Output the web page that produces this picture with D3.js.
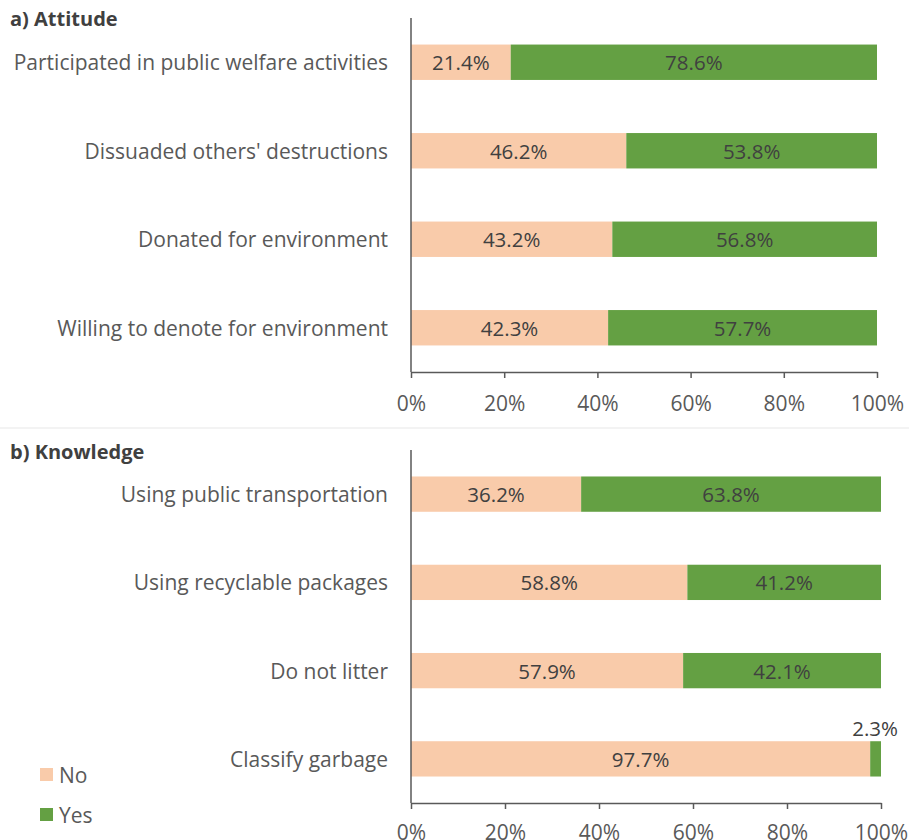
<!DOCTYPE html>
<html>
<head>
<meta charset="utf-8">
<script src="https://cdn.jsdelivr.net/npm/d3@7"></script>
<style>
  body { margin: 0; background: #fff; }
  svg { display: block; }
  text { font-family: "Open Sans", sans-serif; }
</style>
</head>
<body>
<svg id="chart" width="909" height="840"></svg>
<script>
// Survey results: share answering No / Yes (percent)
const attitudeItems = [
  "Participated in public welfare activities",
  "Dissuaded others' destructions",
  "Donated for environment",
  "Willing to denote for environment"
];
const attitudeNo  = [21.4, 46.2, 43.2, 42.3];
const attitudeYes = [78.6, 53.8, 56.8, 57.7];

const knowledgeItems = [
  "Using public transportation",
  "Using recyclable packages",
  "Do not litter",
  "Classify garbage"
];
const knowledgeNo  = [36.2, 58.8, 57.9, 97.7];
const knowledgeYes = [63.8, 41.2, 42.1, 2.3];

const tickValues = [0, 20, 40, 60, 80, 100];
const seriesNames = ["No", "Yes"];
const colors = { No: "#F9CBAA", Yes: "#64A043" };

const svg = d3.select("#chart");
const labelColor = "#595959";
const valueColor = "#404040";
const fontFamily = "'Open Sans', sans-serif";
const fsLabel = 21;
const fsValue = 20.5;

function panel(cfg) {
  const g = svg.append("g");
  const x = d3.scaleLinear().domain([0, 100]).range([cfg.x0, cfg.x1]);
  const y = d3.scaleBand().domain(cfg.items).range([cfg.yTop, cfg.yBottom]).paddingInner(0.6).paddingOuter(0.3);

  // title
  g.append("text").attr("x", 10).attr("y", cfg.titleY)
    .attr("font-size", 20).attr("font-weight", 700).attr("fill", "#404040")
    .attr("dominant-baseline", "central").text(cfg.title);

  const rows = cfg.items.map((name, i) => ({ name, no: cfg.no[i], yes: cfg.yes[i] }));

  // stacked bars
  const row = g.selectAll("g.row").data(rows).join("g").attr("class", "row");
  row.append("rect")
    .attr("x", x(0)).attr("y", d => y(d.name))
    .attr("width", d => x(d.no) - x(0)).attr("height", y.bandwidth())
    .attr("fill", colors.No);
  row.append("rect")
    .attr("x", d => x(d.no)).attr("y", d => y(d.name))
    .attr("width", d => x(d.no + d.yes) - x(d.no)).attr("height", y.bandwidth())
    .attr("fill", colors.Yes);

  // value labels
  row.append("text")
    .attr("x", d => x(d.no / 2)).attr("y", d => y(d.name) + y.bandwidth() / 2)
    .attr("text-anchor", "middle").attr("dominant-baseline", "central")
    .attr("font-size", fsValue).attr("fill", valueColor)
    .text(d => d.no.toFixed(1) + "%");
  row.append("text")
    .attr("x", d => d.yes < 10 ? x(100) + 17 : x(d.no + d.yes / 2))
    .attr("y", d => d.yes < 10 ? y(d.name) - 13 : y(d.name) + y.bandwidth() / 2)
    .attr("text-anchor", d => d.yes < 10 ? "end" : "middle").attr("dominant-baseline", "central")
    .attr("font-size", fsValue).attr("fill", valueColor)
    .text(d => d.yes.toFixed(1) + "%");

  // category labels
  g.selectAll("text.cat").data(rows).join("text").attr("class", "cat")
    .attr("x", 388).attr("y", d => y(d.name) + y.bandwidth() / 2)
    .attr("text-anchor", "end").attr("dominant-baseline", "central")
    .attr("font-size", fsLabel).attr("fill", labelColor)
    .text(d => d.name);

  // vertical category axis line
  g.append("line").attr("x1", x(0)).attr("x2", x(0))
    .attr("y1", cfg.yTop).attr("y2", cfg.yBottom)
    .attr("stroke", "#595959").attr("stroke-width", 1.5);

  // bottom percent axis
  const ax = g.append("g").attr("transform", `translate(0,${cfg.yBottom})`)
    .call(d3.axisBottom(x).tickValues(tickValues).tickFormat(d => d + "%").tickSize(6).tickSizeOuter(0));
  ax.select(".domain").attr("stroke", "#595959").attr("stroke-width", 1.5);
  ax.selectAll(".tick line").attr("stroke", "#595959").attr("stroke-width", 1.5);
  ax.selectAll(".tick text").attr("font-size", fsLabel).attr("fill", labelColor)
    .attr("font-family", fontFamily).attr("dy", null)
    .attr("y", cfg.tickTextY - cfg.yBottom).attr("dominant-baseline", "central");
}

panel({
  title: "a) Attitude", titleY: 18,
  items: attitudeItems, no: attitudeNo, yes: attitudeYes,
  x0: 411, x1: 877, yTop: 18, yBottom: 372, tickTextY: 403
});

// faint separator between the two panels
svg.append("line").attr("x1", 0).attr("x2", 909).attr("y1", 428).attr("y2", 428)
  .attr("stroke", "#f3f3f3").attr("stroke-width", 2);

panel({
  title: "b) Knowledge", titleY: 451,
  items: knowledgeItems, no: knowledgeNo, yes: knowledgeYes,
  x0: 411, x1: 881, yTop: 450, yBottom: 803, tickTextY: 832
});

// legend
const leg = svg.append("g").selectAll("g").data(seriesNames).join("g")
  .attr("transform", (d, i) => `translate(40,${768 + i * 40})`);
leg.append("rect").attr("width", 13).attr("height", 13).attr("fill", d => colors[d]);
leg.append("text").attr("x", 19).attr("y", 6.5).attr("dominant-baseline", "central")
  .attr("font-size", fsLabel).attr("fill", labelColor).text(d => d);
</script>
</body>
</html>
